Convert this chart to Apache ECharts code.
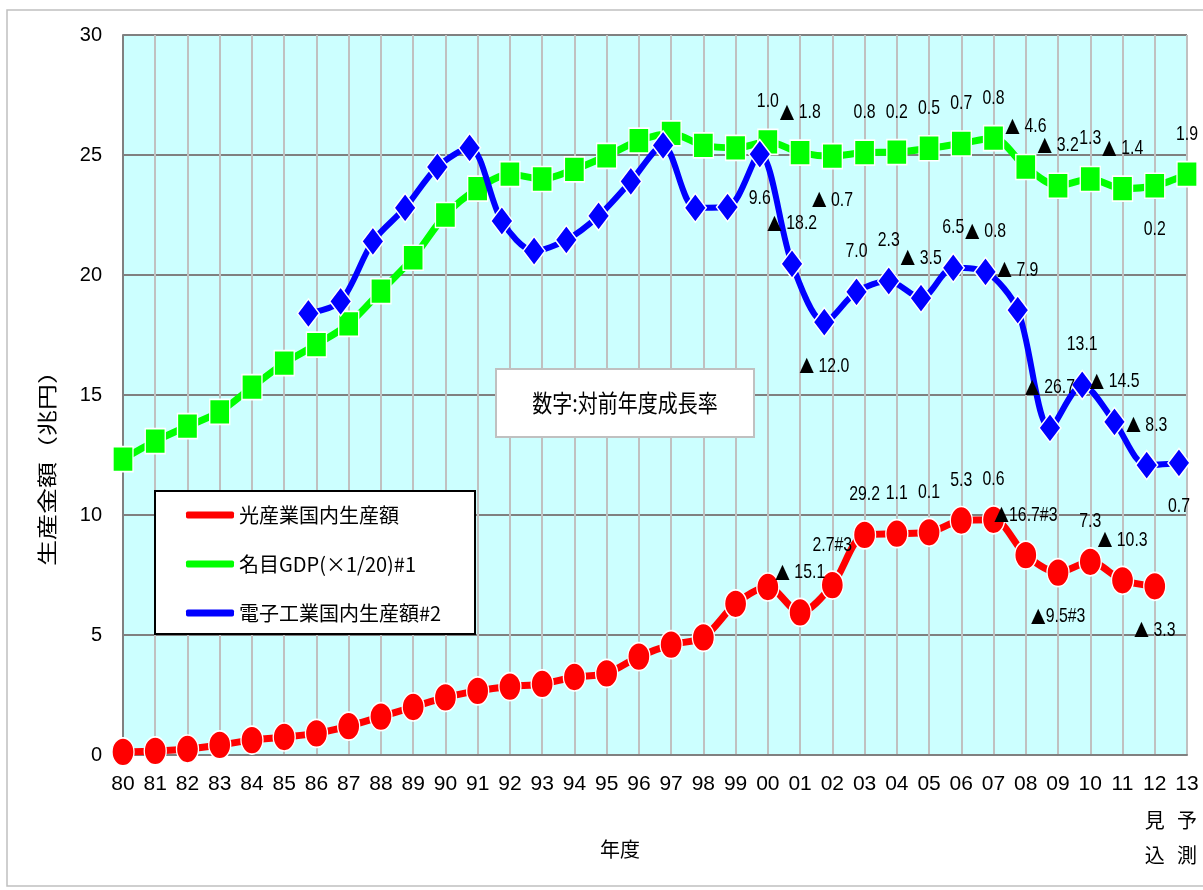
<!DOCTYPE html>
<html>
<head>
<meta charset="utf-8">
<script src="https://cdn.jsdelivr.net/npm/echarts@6/dist/echarts.min.js"></script>
<style>
  html, body { margin: 0; padding: 0; background: #ffffff; }
  #chart { width: 1203px; height: 890px; }
</style>
</head>
<body>
<div id="chart"></div>
<script>
// Fiscal years (two-digit)
const years = ['80','81','82','83','84','85','86','87','88','89','90','91','92','93','94','95','96',
               '97','98','99','00','01','02','03','04','05','06','07','08','09','10','11','12','13'];

// 光産業国内生産額 (兆円)
const optical = [0.13, 0.17, 0.25, 0.42, 0.62, 0.75, 0.9, 1.2, 1.6, 2.0, 2.4, 2.67, 2.85, 2.96, 3.25, 3.4, 4.1,
                 4.6, 4.9, 6.3, 7.0, 5.94, 7.08, 9.17, 9.22, 9.28, 9.77, 9.8, 8.33, 7.6, 8.05, 7.28, 7.03, null];

// 名目GDP × 1/20 (兆円)
const gdp = [12.33, 13.08, 13.7, 14.3, 15.33, 16.33, 17.1, 17.96, 19.33, 20.72, 22.5, 23.6, 24.2, 24.0, 24.4, 24.96, 25.6,
             25.9, 25.4, 25.3, 25.55, 25.1, 24.95, 25.1, 25.12, 25.28, 25.48, 25.7, 24.5, 23.72, 24.0, 23.6, 23.72, 24.2];

// 電子工業国内生産額 (兆円)
const electronic = [null, null, null, null, null, null, 18.4, 18.9, 21.4, 22.8, 24.5, 25.3, 22.25, 21.0, 21.46, 22.46, 23.9,
                    25.4, 22.8, 22.83, 25.04, 20.46, 18.04, 19.3, 19.75, 19.04, 20.3, 20.13, 18.54, 13.63, 15.42, 13.88, 12.08, 12.17];

// Year-on-year growth notes (%), ▲ = decline
const opticalNotes = {'01':'▲ 15.1','02':'2.7#3','03':'29.2','04':'1.1','05':'0.1','06':'5.3','07':'0.6',
                      '08':'▲16.7#3','09':'▲9.5#3','10':'7.3','11':'▲ 10.3','12':'▲ 3.3'};
const gdpNotes = {'00':'1.0','01':'▲ 1.8','02':'▲ 0.7','03':'0.8','04':'0.2','05':'0.5','06':'0.7','07':'0.8',
                  '08':'▲ 4.6','09':'▲ 3.2','10':'1.3','11':'▲ 1.4','12':'0.2','13':'1.9'};
const electronicNotes = {'00':'9.6','01':'▲ 18.2','02':'▲ 12.0','03':'7.0','04':'2.3','05':'▲ 3.5','06':'6.5',
                         '07':'▲ 0.8','08':'▲ 7.9','09':'▲ 26.7','10':'13.1','11':'▲ 14.5','12':'▲ 8.3','13':'0.7'};

// Notes drawn under their point instead of above it
const opticalNotesBelow = ['09', '12'];
const gdpNotesBelow = ['02', '12'];
const electronicNotesBelow = ['00', '02', '13'];

const seriesNames = ['光産業国内生産額', '名目GDP(×1/20)#1', '電子工業国内生産額#2'];

const NARROW = "'Liberation Sans Narrow', 'Liberation Sans', 'Noto Sans CJK JP', sans-serif";
const CJK = "'Noto Sans CJK JP', sans-serif";
const ELLIPSE = 'path://M0,50A50,50 0 1,0 100,50A50,50 0 1,0 0,50Z';

const chart = echarts.init(document.getElementById('chart'));

chart.setOption({
  animation: false,
  backgroundColor: '#ffffff',
  grid: {
    left: 123, right: 16, top: 35, bottom: 135,
    containLabel: false,
    outerBoundsMode: 'none',
    show: true, backgroundColor: '#ccffff', borderWidth: 0
  },
  legend: {
    data: seriesNames,
    orient: 'vertical',
    left: 186,
    top: 503,
    padding: 0,
    itemGap: 25,
    itemWidth: 48,
    itemHeight: 7,
    icon: 'roundRect',
    selectedMode: false,
    itemStyle: { borderWidth: 0 },
    textStyle: { fontSize: 20, lineHeight: 24, color: '#000000', fontFamily: CJK }
  },
  xAxis: [
    {
      type: 'category',
      data: years,
      boundaryGap: false,
      name: '年度',
      nameLocation: 'middle',
      nameGap: 84,
      nameMoveOverlap: false,
      nameTextStyle: { fontSize: 20, color: '#000000', fontFamily: CJK, padding: [0, 70, 0, 0] },
      axisLine: { lineStyle: { color: '#808080', width: 2 } },
      axisTick: { show: false },
      splitLine: { show: true, lineStyle: { color: '#c0c0c0', width: 2 } },
      axisLabel: {
        interval: 0,
        margin: 16,
        color: '#000000',
        formatter: function (v) {
          if (v === '12') return '{a|12}\n{c|見}\n{b|込}';
          if (v === '13') return '{a|13}\n{c|予}\n{b|測}';
          return '{a|' + v + '}';
        },
        rich: {
          a: { fontSize: 21, lineHeight: 26, fontFamily: NARROW, color: '#000000' },
          c: { fontSize: 20, lineHeight: 46, fontFamily: CJK, color: '#000000' },
          b: { fontSize: 20, lineHeight: 24, fontFamily: CJK, color: '#000000' }
        }
      }
    },
    {
      // shifted scale for the electronics series markers
      type: 'value',
      min: 0.25,
      max: 33.25,
      show: false
    }
  ],
  yAxis: {
    type: 'value',
    min: 0,
    max: 30,
    interval: 5,
    axisLine: { show: true, lineStyle: { color: '#808080', width: 2 } },
    axisTick: { show: false },
    splitLine: { lineStyle: { color: '#808080', width: 2 } },
    axisLabel: { margin: 21, fontSize: 20, color: '#000000', fontFamily: "'Liberation Sans', Arial, sans-serif" }
  },
  series: [
    {
      name: seriesNames[0],
      type: 'line',
      smooth: 0.3,
      data: optical.map((v, i) => [i, v]),
      symbol: ELLIPSE,
      symbolSize: [22, 28],
      color: '#ff0000',
      lineStyle: { color: '#ff0000', width: 7 },
      itemStyle: { color: '#ff0000', borderColor: '#ffffff', borderWidth: 1.5 },
      z: 2
    },
    {
      name: seriesNames[1],
      type: 'line',
      smooth: 0.3,
      data: gdp.map((v, i) => [i, v]),
      symbol: 'rect',
      symbolSize: [20, 25],
      color: '#00ff00',
      lineStyle: { color: '#00ff00', width: 7 },
      itemStyle: { color: '#00ff00', borderColor: '#ffffff', borderWidth: 1.5 },
      z: 3
    },
    {
      name: seriesNames[2],
      type: 'line',
      xAxisIndex: 1,
      smooth: 0.3,
      data: electronic.map((v, i) => [i, v]),
      symbol: 'diamond',
      symbolSize: [22, 29],
      color: '#0000ff',
      lineStyle: { color: '#0000ff', width: 6 },
      itemStyle: { color: '#0000ff', borderColor: '#ffffff', borderWidth: 1.5 },
      z: 4
    }
  ]
});

// Frames, caption box and rotated axis title
const graphics = [
  {
    type: 'rect', z: 0, silent: true,
    shape: { x: 7, y: 10, width: 1200, height: 876 },
    style: { fill: 'none', stroke: '#c0c0c0', lineWidth: 1.5 }
  },
  {
    type: 'rect', z: 3, silent: true,
    shape: { x: 155, y: 491, width: 320, height: 143 },
    style: { fill: '#ffffff', stroke: '#000000', lineWidth: 2 }
  },
  {
    type: 'rect', z: 3, silent: true,
    shape: { x: 496, y: 369, width: 258, height: 68 },
    style: { fill: '#ffffff', stroke: '#c0c0c0', lineWidth: 2 }
  },
  {
    type: 'text', z: 4, silent: true,
    x: 625, y: 403, scaleY: 1.2,
    style: {
      text: '数字:対前年度成長率', fill: '#000000',
      font: "20px 'Noto Sans CJK JP', sans-serif",
      align: 'center', verticalAlign: 'middle'
    }
  },
  {
    type: 'text', z: 4, silent: true,
    x: 47, y: 462, rotation: Math.PI / 2, scaleX: 1.3,
    style: {
      text: '生産金額（兆円）', fill: '#000000',
      font: "20px 'Noto Sans CJK JP', sans-serif",
      align: 'center', verticalAlign: 'middle'
    }
  }
];

// Growth-rate notes, placed from each point's value through the chart's own scales
function addNotes(seriesIndex, values, notes, below) {
  values.forEach((v, i) => {
    const yr = years[i];
    if (v == null || !notes[yr]) return;
    const p = chart.convertToPixel({ seriesIndex: seriesIndex }, [i, v]);
    graphics.push({
      type: 'text', z: 10, silent: true,
      x: p[0], y: p[1] + (below.includes(yr) ? 44 : -40),
      scaleX: 0.88, scaleY: 1.1,
      style: {
        text: notes[yr].replace('▲', '{t|▲}'),
        fill: '#000000',
        fontSize: 18,
        fontFamily: "'Liberation Sans', sans-serif",
        align: 'center', verticalAlign: 'middle',
        rich: {
          t: { fontSize: 17, fontFamily: CJK, fill: '#000000' }
        }
      }
    });
  });
}
addNotes(0, optical, opticalNotes, opticalNotesBelow);
addNotes(1, gdp, gdpNotes, gdpNotesBelow);
addNotes(2, electronic, electronicNotes, electronicNotesBelow);

chart.setOption({ graphic: graphics });
</script>
</body>
</html>
